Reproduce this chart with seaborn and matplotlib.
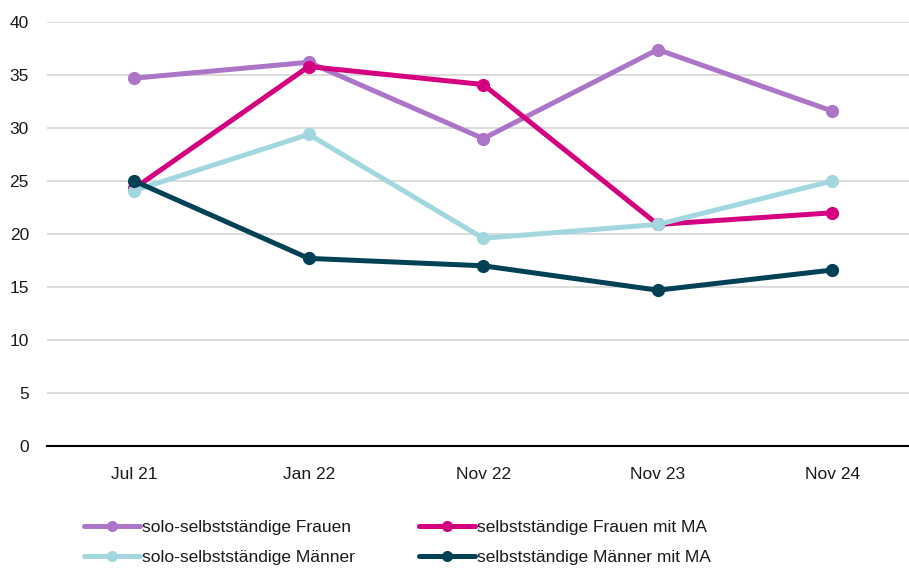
import matplotlib
matplotlib.use("Agg")
import matplotlib.pyplot as plt
import seaborn as sns
import pandas as pd

# Data
periods = ["Jul 21", "Jan 22", "Nov 22", "Nov 23", "Nov 24"]
solo_frauen = [34.7, 36.2, 29.0, 37.4, 31.6]
frauen_ma = [24.3, 35.8, 34.1, 20.9, 22.0]
solo_maenner = [24.1, 29.4, 19.6, 20.9, 25.0]
maenner_ma = [25.0, 17.7, 17.0, 14.7, 16.6]

series_names = ["solo-selbstständige Frauen", "selbstständige Frauen mit MA",
                "solo-selbstständige Männer", "selbstständige Männer mit MA"]
colors = ["#AD75C8", "#D5007F", "#A3D7E0", "#004155"]

df = pd.concat([
    pd.DataFrame({"period": periods, "value": vals, "series": name})
    for name, vals in zip(series_names, [solo_frauen, frauen_ma, solo_maenner, maenner_ma])
])
df["x"] = df["period"].map({p: i for i, p in enumerate(periods)})

sns.set_theme(style="white")
plt.rcParams["font.family"] = ["Liberation Sans", "DejaVu Sans"]

fig = plt.figure(figsize=(9.09, 5.70), dpi=100)
ax = fig.add_axes([47 / 909, 1 - 446 / 570, (909 - 47) / 909, (446 - 22) / 570])

sns.lineplot(data=df, x="x", y="value", hue="series", hue_order=series_names,
             palette=colors, marker="o", markersize=9.5, markeredgewidth=0,
             linewidth=3.6, ax=ax, legend=False)

ax.set_xlim(-0.5, 4.44)
ax.set_ylim(0, 40)
ax.set_yticks(range(0, 41, 5))
ax.set_xticks(range(len(periods)))
ax.set_xticklabels(periods)
ax.set_xlabel("")
ax.set_ylabel("")
ax.tick_params(axis="both", length=0, labelsize=12.5, colors="#1a1a1a")
ax.tick_params(axis="x", pad=15)
ax.tick_params(axis="y", pad=13)
ax.grid(axis="y", color="#d9d9d9", linewidth=1.3)
ax.set_axisbelow(True)
for side in ["top", "right", "left"]:
    ax.spines[side].set_visible(False)
ax.spines["bottom"].set_color("black")
ax.spines["bottom"].set_linewidth(1.5)
ax.spines["bottom"].set_zorder(1)

# legend filled column-wise, so order handles to get the reference's row layout
order = [0, 2, 1, 3]
handles = [plt.Line2D([], [], color=colors[i], lw=3.6, marker="o", markersize=8, markeredgewidth=0)
           for i in order]
labels = [series_names[i] for i in order]
fig.legend(handles, labels, loc="center left", bbox_to_anchor=(84 / 909, 1 - 542.5 / 570),
           ncol=2, frameon=False, fontsize=12.5, handlelength=3.2, handletextpad=0.15,
           columnspacing=3.7, labelspacing=0.85, borderaxespad=0, borderpad=0,
           labelcolor="#1a1a1a")

fig.savefig("out.png", dpi=100)
